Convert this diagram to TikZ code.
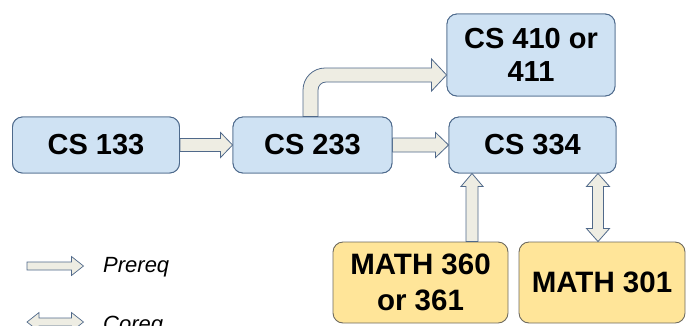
\documentclass[tikz,border=0pt]{standalone}
\usepackage{fontspec}
\setmainfont{Liberation Sans}
\usetikzlibrary{calc}
\definecolor{bluefill}{HTML}{CFE2F3}
\definecolor{blueline}{HTML}{4E6A8C}
\definecolor{yelfill}{HTML}{FFE599}
\definecolor{yelline}{HTML}{6E6A5E}
\definecolor{arrfill}{HTML}{EEEDE3}
\definecolor{arrline}{HTML}{50698A}
\begin{document}
\begin{tikzpicture}[x=1pt,y=-1pt,
  course/.style={draw=blueline, fill=bluefill, rounded corners=10pt, line width=0.9pt,
    inner sep=0pt, align=center, font=\bfseries\fontsize{29}{33}\selectfont},
  mathbox/.style={course, draw=yelline, fill=yelfill, font=\bfseries\fontsize{29.5}{36}\selectfont},
  blockarrow/.style={draw=arrline, fill=arrfill, line width=0.8pt, line join=miter},
  legendtext/.style={anchor=base west, font=\itshape\fontsize{22}{26}\selectfont, inner sep=0pt}]

\useasboundingbox (0,0) rectangle (692,325);
\clip (0,0) rectangle (692,325);

\path (96,145) coordinate (c133) (312.5,145) coordinate (c233) (532.5,145) coordinate (c334)
      (531,55) coordinate (c410) (420.5,282.5) coordinate (c360) (602,282.5) coordinate (c301);

\node[course, minimum width=167pt, minimum height=56pt] (cs133) at (c133) {CS 133};
\node[course, minimum width=159pt, minimum height=56pt] (cs233) at (c233) {CS 233};
\node[course, minimum width=167pt, minimum height=56pt] (cs334) at (c334) {CS 334};
\node[course, minimum width=168pt, minimum height=82pt] (cs410) at (c410) {CS 410 or\\411};
\node[mathbox, minimum width=175pt, minimum height=81pt] (math360) at (c360) {MATH 360\\or 361};
\node[mathbox, minimum width=166pt, minimum height=81pt] (math301) at (c301) {MATH 301};

% CS 133 -> CS 233
\draw[blockarrow] ($(cs133.east)+(0,-6.5)$) -- ($(cs233.west)+(-12,-6.5)$) -- ($(cs233.west)+(-12,-12.5)$)
  -- (cs233.west) -- ($(cs233.west)+(-12,12.5)$) -- ($(cs233.west)+(-12,6.5)$) -- ($(cs133.east)+(0,6.5)$) -- cycle;
% CS 233 -> CS 334
\draw[blockarrow] ($(cs233.east)+(0,-7)$) -- ($(cs334.west)+(-13,-7)$) -- ($(cs334.west)+(-13,-12.5)$)
  -- (cs334.west) -- ($(cs334.west)+(-13,12.5)$) -- ($(cs334.west)+(-13,7)$) -- ($(cs233.east)+(0,7)$) -- cycle;
% CS 233 -> CS 410 (bent)
\coordinate (b0) at ($(cs233.north)+(-2,0)$);
\coordinate (bt) at ($(cs410.west)+(0,20)$);
\draw[blockarrow] ($(b0)+(-7.5,0)$) -- ($(b0|-bt)+(-7.5,15)$) arc[start angle=180, end angle=270, radius=22]
  -- ($(bt)+(-15,-7)$) -- ($(bt)+(-15,-16)$) -- (bt) -- ($(bt)+(-15,16)$) -- ($(bt)+(-15,7)$)
  -- ($(b0|-bt)+(15.5,7)$) arc[start angle=270, end angle=180, radius=8] -- ($(b0)+(7.5,0)$) -- cycle;
% MATH 360 -> CS 334
\coordinate (vt) at ($(cs334.south)+(-60.5,0)$);
\coordinate (vs) at (math360.north -| vt);
\draw[blockarrow] ($(vs)+(-6,0)$) -- ($(vt)+(-6,13)$) -- ($(vt)+(-11,13)$) -- (vt) -- ($(vt)+(11,13)$)
  -- ($(vt)+(6,13)$) -- ($(vs)+(6,0)$) -- cycle;
% MATH 301 <-> CS 334
\coordinate (dt) at ($(cs334.south)+(65.5,0)$);
\coordinate (db) at (math301.north -| dt);
\draw[blockarrow] (dt) -- ($(dt)+(11.5,13)$) -- ($(dt)+(5.5,13)$) -- ($(db)+(5.5,-13)$) -- ($(db)+(11.5,-13)$)
  -- (db) -- ($(db)+(-11.5,-13)$) -- ($(db)+(-5.5,-13)$) -- ($(dt)+(-5.5,13)$) -- ($(dt)+(-11.5,13)$) -- cycle;

% boxes again on top of the arrow ends
\node[course, minimum width=167pt, minimum height=56pt] at (c133) {CS 133};
\node[course, minimum width=159pt, minimum height=56pt] at (c233) {CS 233};
\node[course, minimum width=167pt, minimum height=56pt] at (c334) {CS 334};
\node[course, minimum width=168pt, minimum height=82pt] at (c410) {CS 410 or\\411};

% legend
\coordinate (p0) at (27,266);
\coordinate (p1) at (83.5,266);
\draw[blockarrow, line width=0.7pt] ($(p0)+(0,-4)$) -- ($(p1)+(-12,-4)$) -- ($(p1)+(-12,-9.5)$) -- (p1)
  -- ($(p1)+(-12,9.5)$) -- ($(p1)+(-12,4)$) -- ($(p0)+(0,4)$) -- cycle;
\node[legendtext] (prereq) at (103,272) {Prereq};
\coordinate (q0) at (27,322);
\coordinate (q1) at (83.5,322);
\draw[blockarrow, line width=0.7pt] (q0) -- ($(q0)+(12,-9.5)$) -- ($(q0)+(12,-4)$) -- ($(q1)+(-12,-4)$)
  -- ($(q1)+(-12,-9.5)$) -- (q1) -- ($(q1)+(-12,9.5)$) -- ($(q1)+(-12,4)$) -- ($(q0)+(12,4)$)
  -- ($(q0)+(12,9.5)$) -- cycle;
\node[legendtext] (coreq) at (103,331) {Coreq};
\end{tikzpicture}
\end{document}
